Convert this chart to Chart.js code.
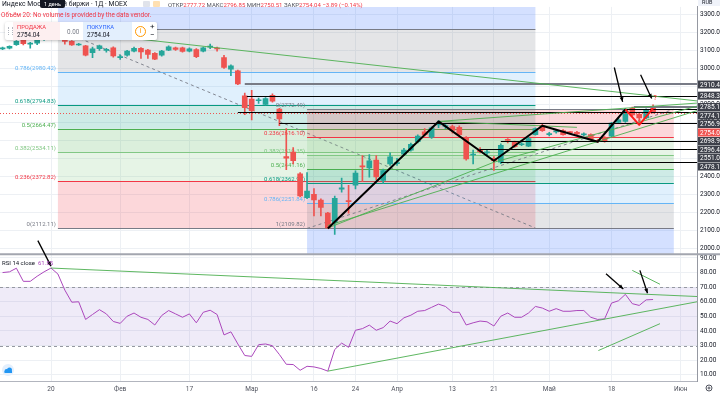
<!DOCTYPE html>
<html>
<head>
<meta charset="utf-8">
<script src="https://cdn.jsdelivr.net/npm/chart.js@4.4.1/dist/chart.umd.min.js"></script>
<style>
  html, body { margin: 0; padding: 0; background: #fff; }
  #wrap { position: relative; width: 720px; height: 396px; overflow: hidden; font-family: Roboto, "Noto Sans", sans-serif; }
  #c { position: absolute; left: 0; top: 0; }
  .t { position: absolute; white-space: nowrap; color: #131722; line-height: 1; }
  .r { color: #f23645; }
  .tip { position: absolute; left: 40px; top: 0; width: 25px; height: 8px; background: #131722; color: #fff; font-size: 5.5px; line-height: 8px; text-align: center; border-radius: 0 0 2px 2px; }
  #panel { position: absolute; left: 5px; top: 22px; width: 152px; height: 18px; background: #fff; border-radius: 2px; box-shadow: 0 1px 3px rgba(0,0,0,0.25); }
  #panel div { position: absolute; white-space: nowrap; line-height: 1; }
  .lbl { font-size: 5.8px; top: 3px; left: 4px; }
  .val { font-size: 6.3px; top: 10px; left: 4px; color: #131722; }
</style>
</head>
<body>
<div id="wrap">
  <canvas id="c" width="720" height="396"></canvas>

  <div class="t" style="left:2px;top:1px;font-size:6.8px;">Индекс Московской биржи · 1Д · MOEX</div>
  <div class="tip">1 день</div>
  <div style="position:absolute;left:143px;top:1px;width:7px;height:6px;background:#e0e3eb;border-radius:1px;"></div>
  <div style="position:absolute;left:153px;top:1px;width:7px;height:6px;background:#ffe0b2;border-radius:1px;"></div>
  <div class="t" style="left:168px;top:1.5px;font-size:6px;color:#50535e;">ОТКР<span class="r">2777.72</span> МАКС<span class="r">2796.85</span> МИН<span class="r">2750.51</span> ЗАКР<span class="r">2754.04</span> <span class="r">−3.89 (−0.14%)</span></div>
  <div class="t" style="left:1px;top:12px;font-size:6.4px;color:#f23645;">Объём 20: No volume is provided by the data vendor.</div>

  <div id="panel">
    <div style="left:3px;top:5px;width:3px;height:8px;border-left:1px dotted #b2b5be;border-right:1px dotted #b2b5be;"></div>
    <div style="left:8px;top:0;width:47px;height:18px;background:#fdeff0;">
      <div class="lbl" style="color:#f23645;">ПРОДАЖА</div>
      <div class="val">2754.04</div>
    </div>
    <div style="left:62px;top:6.5px;font-size:6.3px;color:#787b86;">0.00</div>
    <div style="left:78px;top:0;width:49px;height:18px;background:#e3effd;">
      <div class="lbl" style="color:#2962ff;">ПОКУПКА</div>
      <div class="val">2754.04</div>
    </div>
    <div style="left:130px;top:4px;width:9px;height:9px;border:1px solid #ff9800;border-radius:50%;color:#ff9800;font-size:7px;text-align:center;line-height:9px;">i</div>
    <div style="left:145px;top:1px;font-size:8px;color:#131722;">+</div>
    <div style="left:145px;top:9px;font-size:8px;color:#131722;">−</div>
  </div>
</div>

<script>
// trading days shown (x index 0 = 20 Jan)
const dates = [
  '2020-01-09','2020-01-10','2020-01-13','2020-01-14','2020-01-15','2020-01-16','2020-01-17',
  '2020-01-20','2020-01-21','2020-01-22','2020-01-23','2020-01-24',
  '2020-01-27','2020-01-28','2020-01-29','2020-01-30','2020-01-31',
  '2020-02-03','2020-02-04','2020-02-05','2020-02-06','2020-02-07',
  '2020-02-10','2020-02-11','2020-02-12','2020-02-13','2020-02-14',
  '2020-02-17','2020-02-18','2020-02-19','2020-02-20','2020-02-21',
  '2020-02-25','2020-02-26','2020-02-27','2020-02-28',
  '2020-03-02','2020-03-03','2020-03-04','2020-03-05','2020-03-06',
  '2020-03-10','2020-03-11','2020-03-12','2020-03-13',
  '2020-03-16','2020-03-17','2020-03-18','2020-03-19','2020-03-20',
  '2020-03-23','2020-03-24','2020-03-25','2020-03-26','2020-03-27',
  '2020-03-30','2020-03-31','2020-04-01','2020-04-02','2020-04-03',
  '2020-04-06','2020-04-07','2020-04-08','2020-04-09','2020-04-10',
  '2020-04-13','2020-04-14','2020-04-15','2020-04-16','2020-04-17',
  '2020-04-20','2020-04-21','2020-04-22','2020-04-23','2020-04-24',
  '2020-04-27','2020-04-28','2020-04-29','2020-04-30',
  '2020-05-04','2020-05-05','2020-05-06','2020-05-07','2020-05-08',
  '2020-05-12','2020-05-13','2020-05-14','2020-05-15',
  '2020-05-18','2020-05-19','2020-05-20','2020-05-21','2020-05-22',
  '2020-05-25','2020-05-26'
];
const day0 = dates.indexOf('2020-01-20');

const openP = [
  3108,3112,3132,3160,3135,3140,3160,
  3185,3200,3180,3150,3130, 3125,3087,3109,3100,3114,
  3060,3074,3096,3112,3102, 3084,3073,3102,3114,3114,
  3096,3105,3096,3118,3110, 3060,2996,2987,2847,
  2829,2820,2800,2850,2774, 2510,2534,2413,2281,
  2300,2268,2195,2140,2328, 2265,2350,2457,2446,2490,
  2377,2468,2470,2523,2545, 2592,2647,2617,2685,2677,
  2677,2672,2614,2518,2550, 2530,2500,2478,2605,2590,
  2575,2568,2632,2683, 2632,2646,2654,2644,2645,
  2630,2632,2600,2617, 2623,2700,2705,2778,2745, 2725,2777.72
];
const highP = [
  3118,3126,3155,3165,3145,3165,3190,
  3216.83,3210,3185,3155,3140, 3128,3118,3130,3112,3120,
  3075,3100,3118,3116,3106, 3088,3100,3126,3118,3118,
  3114,3110,3118,3135,3118, 3073,3020,2990,2862,
  2878,2835,2838,2858,2778, 2665,2560,2420,2420,
  2332,2275,2200,2290,2390, 2350,2430,2515,2520,2515,
  2440,2530,2500,2555,2585, 2630,2665,2675,2710,2690,
  2685,2680,2620,2545,2560, 2545,2510,2580,2610,2595,
  2588,2618,2670,2690, 2645,2660,2660,2650,2650,
  2642,2636,2605,2620, 2700,2722,2778,2785,2755, 2775,2796.85
];
const lowP = [
  3104,3108,3128,3130,3112,3132,3155,
  3180,3170,3135,3128,3128, 3069,3060,3100,3090,3063,
  3050,3068,3092,3055,3055, 3048,3068,3098,3100,3090,
  3092,3060,3092,3109,3096, 3000,2960,2910,2742,
  2714,2805,2795,2812,2681, 2437,2468,2285,2275,
  2179,2180,2110,2077,2312, 2195,2330,2370,2395,2380,
  2360,2460,2460,2515,2540, 2585,2625,2610,2670,2665,
  2640,2625,2490,2468,2530, 2520,2432,2470,2585,2560,
  2570,2565,2628,2650, 2625,2640,2628,2635,2632,
  2625,2600,2588,2590, 2620,2695,2700,2735,2700, 2720,2750.51
];
const closeP = [
  3114,3122,3150,3138,3140,3160,3185,
  3205,3180,3150,3130,3133, 3073,3109,3125,3102,3069,
  3066,3096,3112,3091,3078, 3051,3096,3120,3106,3094,
  3109,3065,3114,3120,3108, 3005,3014,2914,2781,
  2765,2825,2832,2818,2719, 2500,2486,2290,2317,
  2268,2226,2113,2277,2335, 2258,2417,2452,2486,2396,
  2432,2508,2476,2545,2577, 2623,2632,2669,2692,2678,
  2655,2632,2496,2520,2537, 2535,2486,2572,2599,2565,
  2580,2610,2665,2654, 2634,2652,2632,2643,2636,
  2634,2605,2593,2595, 2696,2714,2768,2741,2725, 2768,2754.04
];
const rsi14 = [
  80,80.5,83,74,74,77.5,80.5,
  83.1,79,68,59.7,60, 47.9,51.3,54.6,51.7,46.5,
  45.2,50.1,52.3,49.4,47.9, 44.1,50.6,54,51.7,49.4,
  51.7,45.6,52.8,54.2,51.3, 37.3,39.4,31.1,23.2,
  22.6,30.6,31.1,29.9,23.9, 17.2,17,13.1,15.8,
  15.4,14.3,12.5,27.3,31.7, 28.8,40.5,41.6,44,40.5,
  42.3,46.8,45,49,50.8, 53.5,54,56.2,58.4,56.8,
  52.8,52.8,44.1,45.6,46.8, 46.3,43.4,50.1,52.3,49.4,
  49.4,52.3,56.8,55.7, 53.5,55.3,53.5,53.5,54,
  54,49.4,47.9,48.3, 59.1,60.7,65.1,58.7,57.5, 61.3,61.55
];

// axis ticks
const xTickAt = [0, 10, 20, 29, 38, 44, 50, 58, 64, 72, 81, 91];
const xTickText = ['20', 'Фев', '17', 'Мар', '16', '24', 'Апр', '13', '21', 'Май', '18', 'Июн'];
const priceTicks = [2000, 2100, 2200, 2300, 2400, 2500, 2600, 2700, 2800, 2900, 3000, 3100, 3200, 3300];
const rsiTicks = [10, 20, 30, 40, 50, 60, 70, 80, 90];
const rsiBand = [30, 70];

// fibonacci retracements
const fibRatios = ['0', '0.236', '0.382', '0.5', '0.618', '0.786', '1', '1.618'];
const fib1Prices = [2112.11, 2372.82, 2534.11, 2664.47, 2794.83, 2980.42, 3216.83, 3899.55];
const fib1Span = [1, 70];
const fib2Prices = [2772.49, 2616.10, 2519.35, 2441.16, 2362.97, 2251.84, 2109.82, 1700.29];
const fib2Span = [37, 90];

// horizontal levels (price, first bar)
const levelPrices = [2910.40, 2848.34, 2785.12, 2774.13, 2756.93, 2698.95, 2596.40, 2551.09, 2478.18];
const levelFrom = [28, 28.3, 84.2, 83, 27, 33, 65, 62, 65];
const lastPrice = 2754.04;
const lastRsi = 61.55;

// drawings on price pane
const zigBlackX = [40, 56, 64, 71, 79, 83];
const zigBlackY = [2109.82, 2705, 2486, 2681, 2592, 2772];
const zigRedX = [83, 85, 87];
const zigRedY = [2772, 2686, 2778];
const trendX0 = [0, 40, 40, 64, 56, 56];
const trendY0 = [3216.83, 2126, 2112, 2478, 2705, 2705];
const trendX1 = [93.35, 93.35, 64, 93.35, 93.35, 76];
const trendY1 = [2819, 2765, 2478, 2790, 2807, 2672];
const arrowX0 = [81.4, 85.2], arrowY0 = [3005, 2965];
const arrowX1 = [82.6, 86.8], arrowY1 = [2814, 2832];
const questionAt = [87.3, 2834];

// drawings on RSI pane
const rTrendX0 = [0, 40, 79.1, 84];
const rTrendY0 = [83.1, 12.5, 26.6, 81.5];
const rTrendX1 = [93.35, 93.35, 88, 88];
const rTrendY1 = [63.6, 60, 45, 72];
const rArrowX0 = [80.2, 85.1], rArrowY0 = [79.2, 81.5];
const rArrowX1 = [82.7, 86.2], rArrowY1 = [68.8, 65.8];
// arrow crossing from price pane (start) into RSI pane (end)
const crossArrowX = [-1.9, 0];
const crossArrowY = [2042, 84.4];

const UP = '#26a69a', DOWN = '#ef5350';
const fibColors = ['#787b86', '#f23645', '#81c784', '#4caf50', '#089981', '#64b5f6', '#787b86', '#2962ff'];
const levelColor = ['#787b86', '#000', '#787b86', '#000', '#000', '#000', '#000', '#000', '#000'];
const levelWidth = [2, 1, 2, 1, 1, 1, 1, 1, 1];

const candleColor = openP.map((o, k) => closeP[k] >= o ? UP : DOWN);

function hexA(hex, a) {
  const n = parseInt(hex.slice(1), 16);
  return `rgba(${n >> 16},${(n >> 8) & 255},${n & 255},${a})`;
}
function seg(ctx, x0, y0, x1, y1) {
  ctx.beginPath(); ctx.moveTo(x0, y0); ctx.lineTo(x1, y1); ctx.stroke();
}
function arrow(ctx, x0, y0, x1, y1) {
  seg(ctx, x0, y0, x1, y1);
  const a = Math.atan2(y1 - y0, x1 - x0), L = 5;
  ctx.beginPath();
  ctx.moveTo(x1, y1);
  ctx.lineTo(x1 - L * Math.cos(a - 0.4), y1 - L * Math.sin(a - 0.4));
  ctx.lineTo(x1 - L * Math.cos(a + 0.4), y1 - L * Math.sin(a + 0.4));
  ctx.closePath(); ctx.fill();
}
function clipPane(ctx, area, s) {
  ctx.beginPath(); ctx.rect(area.left, s.top, area.right - area.left, s.bottom - s.top); ctx.clip();
}

function drawFib(ctx, x, y, prices, span) {
  const x0 = x.getPixelForValue(span[0]), x1 = x.getPixelForValue(span[1]);
  for (let k = 1; k < prices.length; k++) {
    const ya = y.getPixelForValue(prices[k - 1]), yb = y.getPixelForValue(prices[k]);
    ctx.fillStyle = hexA(fibColors[k], 0.2);
    ctx.fillRect(x0, Math.min(ya, yb), x1 - x0, Math.abs(yb - ya));
  }
  ctx.lineWidth = 1;
  ctx.font = '6px Roboto';
  ctx.textAlign = 'right';
  ctx.textBaseline = 'bottom';
  for (let k = 0; k < prices.length - 1; k++) {
    const yy = Math.round(y.getPixelForValue(prices[k])) + 0.5;
    ctx.strokeStyle = fibColors[k];
    seg(ctx, x0, yy, x1, yy);
    ctx.fillStyle = fibColors[k];
    ctx.fillText(`${fibRatios[k]}(${prices[k].toFixed(2)})`, x0 - 2, yy - 1);
  }
  ctx.save();
  ctx.setLineDash([3, 3]);
  ctx.strokeStyle = 'rgba(120,123,134,0.9)';
  seg(ctx, x0, y.getPixelForValue(prices[6]), x1, y.getPixelForValue(prices[0]));
  ctx.restore();
}

const overlay = {
  id: 'overlay',
  beforeDatasetsDraw(chart) {
    const { ctx, chartArea: ca, scales: { x, y, yr } } = chart;
    ctx.save();
    clipPane(ctx, ca, y);
    drawFib(ctx, x, y, fib1Prices, fib1Span);
    drawFib(ctx, x, y, fib2Prices, fib2Span);
    ctx.restore();

    ctx.save();
    clipPane(ctx, ca, yr);
    const y70 = yr.getPixelForValue(rsiBand[1]), y30 = yr.getPixelForValue(rsiBand[0]);
    ctx.fillStyle = 'rgba(126,87,194,0.12)';
    ctx.fillRect(ca.left, y70, ca.right - ca.left, y30 - y70);
    ctx.strokeStyle = '#9598a1';
    ctx.lineWidth = 1;
    ctx.setLineDash([3, 3]);
    seg(ctx, ca.left, Math.round(y70) + 0.5, ca.right, Math.round(y70) + 0.5);
    seg(ctx, ca.left, Math.round(y30) + 0.5, ca.right, Math.round(y30) + 0.5);
    ctx.restore();
  },
  afterDatasetsDraw(chart) {
    const { ctx, chartArea: ca, scales: { x, y, yr } } = chart;
    const X = v => x.getPixelForValue(v);
    ctx.save();
    clipPane(ctx, ca, y);

    // last price dotted line
    ctx.save();
    ctx.strokeStyle = DOWN; ctx.lineWidth = 1; ctx.setLineDash([1, 2]);
    const yl = Math.round(y.getPixelForValue(lastPrice)) + 0.5;
    seg(ctx, ca.left, yl, ca.right, yl);
    ctx.restore();

    // horizontal levels
    levelPrices.forEach((p, k) => {
      ctx.strokeStyle = levelColor[k];
      ctx.lineWidth = levelWidth[k];
      const yy = Math.round(y.getPixelForValue(p)) + (levelWidth[k] === 1 ? 0.5 : 0);
      seg(ctx, X(levelFrom[k]), yy, ca.right, yy);
    });

    // green trend lines
    ctx.strokeStyle = 'rgba(76,175,80,0.9)';
    ctx.lineWidth = 1;
    trendX0.forEach((v, k) => seg(ctx, X(v), y.getPixelForValue(trendY0[k]), X(trendX1[k]), y.getPixelForValue(trendY1[k])));

    // zigzags
    ctx.lineJoin = 'round';
    ctx.lineWidth = 2;
    ctx.strokeStyle = '#000';
    ctx.beginPath();
    zigBlackX.forEach((v, k) => ctx[k ? 'lineTo' : 'moveTo'](X(v), y.getPixelForValue(zigBlackY[k])));
    ctx.stroke();
    ctx.strokeStyle = '#ff1a1a';
    ctx.beginPath();
    zigRedX.forEach((v, k) => ctx[k ? 'lineTo' : 'moveTo'](X(v), y.getPixelForValue(zigRedY[k])));
    ctx.stroke();

    // arrows
    ctx.lineWidth = 1.3;
    ctx.strokeStyle = '#000'; ctx.fillStyle = '#000';
    arrowX0.forEach((v, k) => arrow(ctx, X(v), y.getPixelForValue(arrowY0[k]), X(arrowX1[k]), y.getPixelForValue(arrowY1[k])));

    ctx.fillStyle = '#ff1a1a';
    ctx.font = '7px Roboto';
    ctx.textAlign = 'center'; ctx.textBaseline = 'middle';
    ctx.fillText('?', X(questionAt[0]), y.getPixelForValue(questionAt[1]));
    ctx.restore();

    // RSI pane drawings
    ctx.save();
    clipPane(ctx, ca, yr);
    ctx.strokeStyle = 'rgba(76,175,80,0.9)';
    ctx.lineWidth = 1;
    rTrendX0.forEach((v, k) => seg(ctx, X(v), yr.getPixelForValue(rTrendY0[k]), X(rTrendX1[k]), yr.getPixelForValue(rTrendY1[k])));
    ctx.lineWidth = 1.3;
    ctx.strokeStyle = '#000'; ctx.fillStyle = '#000';
    rArrowX0.forEach((v, k) => arrow(ctx, X(v), yr.getPixelForValue(rArrowY0[k]), X(rArrowX1[k]), yr.getPixelForValue(rArrowY1[k])));
    ctx.restore();
  },
  afterDraw(chart) {
    const { ctx, chartArea: ca, scales: { x, y, yr } } = chart;
    const W = chart.width;
    ctx.save();

    // pane separator
    ctx.strokeStyle = '#a3a6af';
    ctx.lineWidth = 2;
    seg(ctx, 0, y.bottom, W, y.bottom);

    // arrow into RSI pane
    ctx.lineWidth = 1.3;
    ctx.strokeStyle = '#000'; ctx.fillStyle = '#000';
    arrow(ctx, x.getPixelForValue(crossArrowX[0]), y.getPixelForValue(crossArrowY[0]),
      x.getPixelForValue(crossArrowX[1]), yr.getPixelForValue(crossArrowY[1]));

    // price axis labels for levels
    const marks = levelPrices.concat([lastPrice]).sort((a, b) => b - a);
    let prev = -Infinity;
    ctx.font = '6.5px Roboto';
    ctx.textAlign = 'left'; ctx.textBaseline = 'middle';
    marks.forEach(p => {
      let yy = Math.max(y.getPixelForValue(p), prev + 8.5);
      prev = yy;
      ctx.fillStyle = p === lastPrice ? DOWN : '#3d404a';
      ctx.fillRect(ca.right + 1, yy - 4, W - ca.right, 8);
      ctx.fillStyle = '#fff';
      ctx.fillText(p.toFixed(2), ca.right + 3, yy + 0.5);
    });

    // RUB badge
    ctx.fillStyle = '#f0f3fa';
    ctx.fillRect(ca.right + 1, 0, W - ca.right, 6);
    ctx.fillStyle = '#131722';
    ctx.font = '5.5px Roboto';
    ctx.fillText('RUB', ca.right + 5, 3);

    // RSI legend
    ctx.font = '6px Roboto';
    ctx.fillStyle = '#131722';
    ctx.fillText('RSI 14 close', 2, yr.top + 9);
    ctx.fillStyle = '#ab47bc';
    ctx.fillText(lastRsi.toFixed(2), 38, yr.top + 9);

    // logo bubble bottom-left
    ctx.fillStyle = '#e3effd';
    ctx.beginPath(); ctx.arc(8, yr.bottom - 11, 6, 0, Math.PI * 2); ctx.fill();
    ctx.fillStyle = '#2196f3';
    ctx.beginPath(); ctx.arc(6.5, yr.bottom - 10, 2, 0, Math.PI * 2); ctx.arc(9.5, yr.bottom - 11, 2.5, 0, Math.PI * 2); ctx.fill();
    ctx.fillRect(4.5, yr.bottom - 10, 7.5, 2);

    // settings gear bottom-right
    ctx.strokeStyle = '#50535e'; ctx.lineWidth = 1;
    ctx.beginPath(); ctx.arc(709, 388, 3, 0, Math.PI * 2); ctx.stroke();
    ctx.beginPath(); ctx.arc(709, 388, 1, 0, Math.PI * 2); ctx.stroke();
    ctx.restore();
  }
};

const fit = w => s => { s.width = w; };

new Chart(document.getElementById('c'), {
  type: 'bar',
  data: {
    datasets: [
      {
        label: 'wicks',
        data: dates.map((d, k) => ({ x: k - day0, y: [lowP[k], highP[k]] })),
        backgroundColor: candleColor,
        barThickness: 1,
        grouped: false,
        yAxisID: 'y',
        order: 3
      },
      {
        label: 'bodies',
        data: dates.map((d, k) => ({ x: k - day0, y: [openP[k], closeP[k]] })),
        backgroundColor: candleColor,
        barThickness: 5,
        minBarLength: 1,
        grouped: false,
        yAxisID: 'y',
        order: 2
      },
      {
        type: 'line',
        label: 'RSI 14',
        data: dates.map((d, k) => ({ x: k - day0, y: rsi14[k] })),
        borderColor: '#ab47bc',
        borderWidth: 1,
        pointRadius: 0,
        tension: 0,
        yAxisID: 'yr',
        order: 1
      }
    ]
  },
  options: {
    responsive: false,
    animation: false,
    events: [],
    layout: { padding: 0 },
    plugins: { legend: { display: false }, tooltip: { enabled: false } },
    scales: {
      x: {
        type: 'linear',
        min: -7.37,
        max: 93.35,
        offset: false,
        grid: { offset: false, color: '#edf0f4', drawTicks: false },
        border: { color: '#b2b5be' },
        ticks: {
          autoSkip: false, maxRotation: 0, padding: 4,
          font: { family: 'Roboto', size: 6.5 }, color: '#50535e',
          callback: (v, i) => xTickText[i]
        },
        afterBuildTicks: s => { s.ticks = xTickAt.map(v => ({ value: v })); },
        afterFit: s => { s.height = 15; }
      },
      y: {
        type: 'linear',
        position: 'right',
        stack: 'panes',
        stackWeight: 252,
        min: 1965.7,
        max: 3342,
        grid: { color: '#edf0f4', drawTicks: false },
        border: { color: '#9598a1' },
        ticks: {
          autoSkip: false, padding: 3, font: { family: 'Roboto', size: 6.5 }, color: '#131722',
          callback: v => v.toFixed(2)
        },
        afterBuildTicks: s => { s.ticks = priceTicks.map(v => ({ value: v })); },
        afterFit: fit(23)
      },
      yr: {
        type: 'linear',
        position: 'right',
        stack: 'panes',
        stackWeight: 129,
        min: 5.74,
        max: 92.49,
        grid: { color: '#edf0f4', drawTicks: false },
        border: { color: '#9598a1' },
        ticks: {
          autoSkip: false, padding: 3, font: { family: 'Roboto', size: 6.5 }, color: '#131722',
          callback: v => v.toFixed(2)
        },
        afterBuildTicks: s => { s.ticks = rsiTicks.map(v => ({ value: v })); },
        afterFit: fit(23)
      }
    }
  },
  plugins: [overlay]
});
</script>
</body>
</html>
